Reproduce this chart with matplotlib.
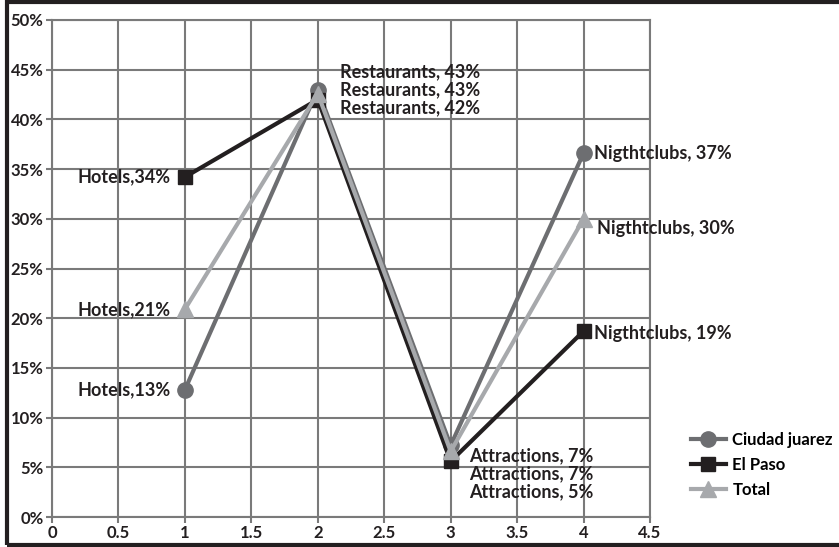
import matplotlib
matplotlib.use("Agg")
import matplotlib.pyplot as plt
from matplotlib.patches import Rectangle

plt.rcParams['font.family'] = ['Lato', 'DejaVu Sans']
plt.rcParams['font.weight'] = 'bold'

# -------------------------
# Data
# -------------------------
x_pos = [1, 2, 3, 4]
categories = ["Hotels", "Restaurants", "Attractions", "Nigthtclubs"]

ciudad = [12.8, 43.0, 7.2, 36.6]
el_paso = [34.2, 42.0, 5.6, 18.7]
total = [20.9, 42.6, 6.6, 30.0]

ciudad_labels = ["Hotels,13%", "Restaurants, 43%", "Attractions, 7%", "Nigthtclubs, 37%"]
el_paso_labels = ["Hotels,34%", "Restaurants, 42%", "Attractions, 5%", "Nigthtclubs, 19%"]
total_labels = ["Hotels,21%", "Restaurants, 43%", "Attractions, 7%", "Nigthtclubs, 30%"]

x_ticks = [0, 0.5, 1, 1.5, 2, 2.5, 3, 3.5, 4, 4.5]
y_ticks = [0, 5, 10, 15, 20, 25, 30, 35, 40, 45, 50]

c_ciudad = "#6d6e71"
c_paso = "#231f20"
c_total = "#a7a9ac"
grid_c = "#7a7a7a"

# -------------------------
# Plot setup
# -------------------------
fig = plt.figure(figsize=(8.39, 5.47), dpi=100)
ax = fig.add_axes([52 / 839, 1 - 517 / 547, (650 - 52) / 839, (517 - 20) / 547])

ax.set_xlim(0, 4.5)
ax.set_ylim(0, 50)
ax.set_xticks(x_ticks)
ax.set_xticklabels([f"{t:g}" for t in x_ticks])
ax.set_yticks(y_ticks)
ax.set_yticklabels([f"{t}%" for t in y_ticks])
ax.grid(True, color=grid_c, lw=1.5)
ax.set_axisbelow(True)
for s in ax.spines.values():
    s.set_color(grid_c)
    s.set_linewidth(1.5)
ax.tick_params(colors=grid_c, length=4, width=1.5, labelsize=12,
               labelcolor="#231f20", pad=2)

ln1, = ax.plot(x_pos, ciudad, '-o', color=c_ciudad, lw=3, ms=11, label="Ciudad juarez")
ln2, = ax.plot(x_pos, el_paso, '-s', color=c_paso, lw=3, ms=10, label="El Paso")
ln3, = ax.plot(x_pos, total, '-^', color=c_total, lw=3, ms=11, label="Total")

# -------------------------
# Data labels (pixel offsets from the point)
# -------------------------
def label(xv, yv, txt, dx, dy, ha):
    ax.annotate(txt, (xv, yv), xytext=(dx, dy), textcoords='offset pixels',
                ha=ha, va='center', fontsize=13, color="#231f20",
                fontweight='bold')

# hotels, to the left
label(1, ciudad[0], ciudad_labels[0], -14, 0, 'right')
label(1, el_paso[0], el_paso_labels[0], -14, 0, 'right')
label(1, total[0], total_labels[0], -14, 0, 'right')
# restaurants, stacked
label(2, ciudad[1], ciudad_labels[1], 22, 18, 'left')
label(2, ciudad[1], total_labels[1], 22, 0, 'left')
label(2, ciudad[1], el_paso_labels[1], 22, -18, 'left')
# attractions, stacked
label(3, el_paso[2], ciudad_labels[2], 18, 6, 'left')
label(3, el_paso[2], total_labels[2], 18, -12, 'left')
label(3, el_paso[2], el_paso_labels[2], 18, -30, 'left')
# nightclubs
label(4, ciudad[3], ciudad_labels[3], 10, 0, 'left')
label(4, total[3], total_labels[3], 13, -10, 'left')
label(4, el_paso[3], el_paso_labels[3], 10, -2, 'left')

fig.legend(handles=[ln1, ln2, ln3], loc='center left',
           bbox_to_anchor=(684 / 839, 1 - 465 / 547), frameon=False,
           prop={'size': 12, 'weight': 'bold'}, handlelength=2.1,
           handletextpad=0.4, labelspacing=0.55, borderaxespad=0)

# outer frame
fig.patches.append(Rectangle((7 / 839, 2 / 547), 840 / 839, 543 / 547,
                             transform=fig.transFigure, fill=False,
                             ec="#231f20", lw=3))

fig.savefig("out.png", dpi=100)
